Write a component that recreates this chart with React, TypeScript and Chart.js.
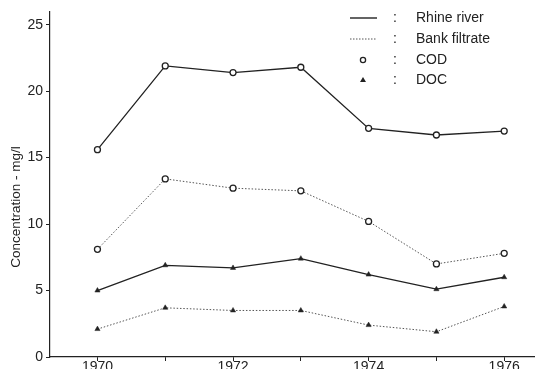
import React, { useEffect, useRef } from "react";
import { Chart, registerables } from "chart.js";

Chart.register(...registerables);

const years = [1970, 1971, 1972, 1973, 1974, 1975, 1976];
const rhineCOD = [15.6, 21.9, 21.4, 21.8, 17.2, 16.7, 17.0];
const bankCOD = [8.1, 13.4, 12.7, 12.5, 10.2, 7.0, 7.8];
const rhineDOC = [5.0, 6.9, 6.7, 7.4, 6.2, 5.1, 6.0];
const bankDOC = [2.1, 3.7, 3.5, 3.5, 2.4, 1.9, 3.8];
const legendLabels = ["Rhine river", "Bank filtrate", "COD", "DOC"];
const yTitle = "Concentration - mg/l";

const FONT = "'Liberation Sans', Arial, sans-serif";
const INK = "#222";

const toXY = (vals: number[]) => vals.map((v, i) => ({ x: years[i], y: v }));

const decorPlugin = {
  id: "decor",
  afterDraw(chart: any) {
    const ctx = chart.ctx;
    ctx.save();
    ctx.fillStyle = INK;
    ctx.strokeStyle = INK;
    ctx.font = `14px ${FONT}`;
    ctx.textBaseline = "middle";
    const rows = [18, 39, 60, 80];
    ctx.lineWidth = 1.4;
    ctx.setLineDash([]);
    ctx.beginPath();
    ctx.moveTo(350, rows[0]);
    ctx.lineTo(377, rows[0]);
    ctx.stroke();
    ctx.strokeStyle = "#555";
    ctx.lineWidth = 1;
    ctx.setLineDash([1.5, 1.5]);
    ctx.beginPath();
    ctx.moveTo(350, rows[1]);
    ctx.lineTo(377, rows[1]);
    ctx.stroke();
    ctx.setLineDash([]);
    ctx.strokeStyle = INK;
    ctx.lineWidth = 1.3;
    ctx.beginPath();
    ctx.arc(363, rows[2], 2.6, 0, Math.PI * 2);
    ctx.fillStyle = "#fff";
    ctx.fill();
    ctx.stroke();
    ctx.fillStyle = INK;
    ctx.beginPath();
    ctx.moveTo(363, rows[3] - 3);
    ctx.lineTo(366, rows[3] + 2);
    ctx.lineTo(360, rows[3] + 2);
    ctx.closePath();
    ctx.fill();
    ctx.textAlign = "center";
    rows.forEach((r) => ctx.fillText(":", 395, r));
    ctx.textAlign = "left";
    legendLabels.forEach((t, i) => ctx.fillText(t, 416, rows[i]));
    ctx.font = `13.5px ${FONT}`;
    ctx.translate(16, 207);
    ctx.rotate(-Math.PI / 2);
    ctx.textAlign = "center";
    ctx.fillText(yTitle, 0, 0);
    ctx.restore();
  },
};

export default function App() {
  const ref = useRef<HTMLCanvasElement>(null);
  useEffect(() => {
    document.body.style.margin = "0";
    document.body.style.overflow = "hidden";
    const solid = { borderColor: INK, borderWidth: 1.3, tension: 0 };
    const dotted = { borderColor: "#555", borderWidth: 1, borderDash: [1.5, 1.8], tension: 0 };
    const circle = {
      pointStyle: "circle",
      pointRadius: 3,
      pointBackgroundColor: "#fff",
      pointBorderColor: INK,
      pointBorderWidth: 1.3,
    };
    const tri = {
      pointStyle: "triangle",
      pointRadius: 3,
      pointBackgroundColor: INK,
      pointBorderColor: INK,
      pointBorderWidth: 0.5,
    };
    const chart = new Chart(ref.current!, {
      type: "line",
      data: {
        datasets: [
          { label: "Rhine river COD", data: toXY(rhineCOD), ...solid, ...circle },
          { label: "Bank filtrate COD", data: toXY(bankCOD), ...dotted, ...circle },
          { label: "Rhine river DOC", data: toXY(rhineDOC), ...solid, ...tri },
          { label: "Bank filtrate DOC", data: toXY(bankDOC), ...dotted, ...tri },
        ] as any,
      },
      options: {
        animation: false,
        responsive: false,
        layout: { padding: { top: 6, right: 3, left: 0, bottom: 0 } },
        plugins: { legend: { display: false }, tooltip: { enabled: false } },
        scales: {
          x: {
            type: "linear",
            min: 1969.3,
            max: 1976.45,
            afterBuildTicks: (s: any) => {
              s.ticks = years.map((v) => ({ value: v }));
            },
            afterFit: (s: any) => {
              s.height = 23;
            },
            ticks: {
              autoSkip: false,
              maxRotation: 0,
              padding: -2,
              color: INK,
              font: { family: FONT, size: 14 },
              callback: (v: any) => (Number(v) % 2 === 0 ? String(v) : ""),
            },
            grid: { drawOnChartArea: false, drawTicks: true, tickLength: 4, color: INK },
            border: { display: true, color: INK, width: 1.2 },
          },
          y: {
            min: 0,
            max: 26,
            afterBuildTicks: (s: any) => {
              s.ticks = [0, 5, 10, 15, 20, 25].map((v) => ({ value: v }));
            },
            afterFit: (s: any) => {
              s.width = 50;
            },
            ticks: {
              padding: 3,
              color: INK,
              font: { family: FONT, size: 14 },
            },
            grid: { drawOnChartArea: false, drawTicks: true, tickLength: 4, color: INK },
            border: { display: true, color: INK, width: 1.2 },
          },
        },
      },
      plugins: [decorPlugin],
    });
    return () => chart.destroy();
  }, []);
  return <canvas ref={ref} width={540} height={380} style={{ display: "block" }} />;
}
